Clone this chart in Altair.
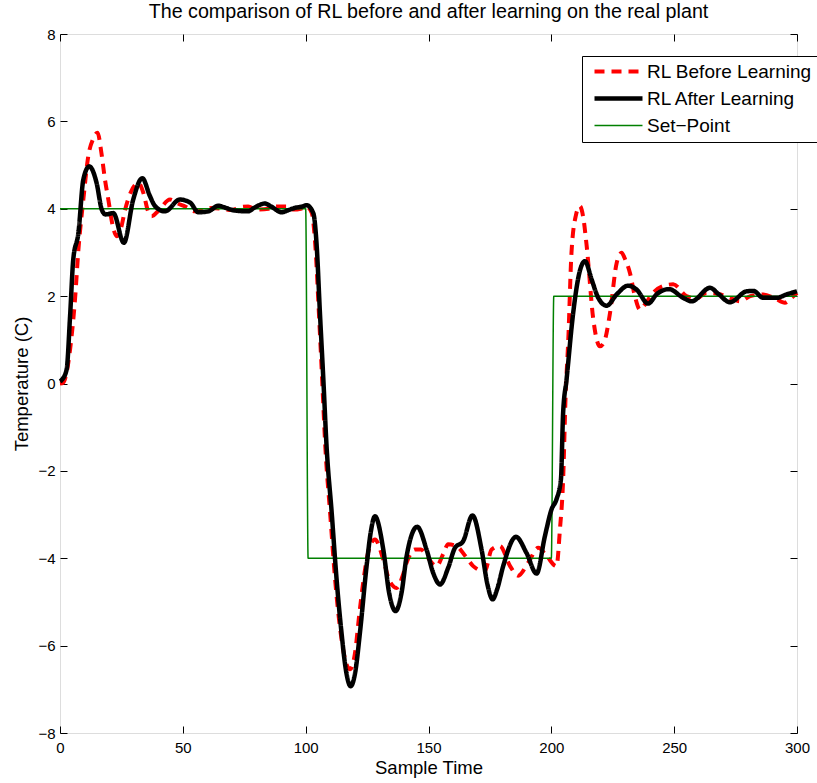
import altair as alt
import pandas as pd

# ---------------- data ----------------
t_before = [0, 1.3, 2.5, 4.1, 6.1, 7.5, 9.5, 11.5, 13.5, 15.3, 16.8, 18.3, 19.7, 21.5, 23.1,
            24.8, 26.5, 29, 31.9, 34, 35.8, 37.3, 40, 44.8, 48, 51, 55, 58, 61.7, 66, 70, 73,
            76.6, 80, 85, 88, 92, 95, 98, 100.4, 102.5, 104, 105.4, 106.7, 108, 110, 112, 114,
            116, 118, 120, 121.8, 123.4, 125.5, 128.2, 131.6, 134, 137, 139.5, 141.1, 144.5,
            147, 149.2, 153.3, 156, 158, 161.4, 165, 168.2, 172.9, 175.7, 179.1, 183.2, 186.5,
            190.6, 194.7, 198.1, 202.1, 203.5, 204.8, 205.8, 206.9, 208.2, 210, 211.6, 213,
            214.4, 217.1, 219.8, 221.5, 223.9, 226.6, 228.6, 230, 232, 234, 236.1, 238, 241,
            245.5, 249.6, 255, 259, 263.2, 268, 272.7, 276.8, 281, 286.3, 291, 295.1, 297.5, 300]
y_before = [0.0, 0.02, 0.2, 0.78, 1.92, 3.07, 4.21, 5.2, 5.6, 5.74, 5.3, 4.67, 4.2, 3.6, 3.37,
            3.55, 3.98, 4.4, 4.59, 4.35, 3.95, 3.83, 3.95, 4.21, 4.12, 4.05, 3.94, 3.96, 4.02,
            4.0, 3.97, 4.03, 4.05, 3.98, 4.0, 4.05, 4.05, 3.98, 4.0, 4.05, 3.9, 3.1, 1.6, 0.1,
            -1.45, -3.0, -4.5, -5.6, -6.3, -6.54, -6.2, -5.3, -4.56, -3.85, -3.57, -4.03, -4.5,
            -4.68, -4.4, -4.1, -3.8, -3.8, -3.95, -4.18, -3.9, -3.68, -3.72, -3.95, -4.18, -4.3,
            -3.8, -3.72, -4.18, -4.4, -4.1, -3.76, -3.95, -4.18, -3.34, -2.2, -0.3, 1.0, 2.99,
            3.85, 4.06, 3.8, 3.14, 1.46, 0.85, 0.95, 1.62, 2.76, 2.99, 2.85, 2.53, 2.0, 1.69,
            1.8, 2.05, 2.23, 2.27, 2.0, 1.95, 2.07, 2.05, 1.96, 1.88, 2.0, 2.04, 1.95, 1.85,
            1.95, 2.07]

t_after = [0, 1, 2.7, 4.1, 5.4, 7.5, 9.5, 11.9, 14.9, 17, 18.5, 21.7, 26, 29.8, 33.5, 36.6,
           38.7, 42.7, 48.8, 53, 56.3, 60.4, 64.4, 67, 71.2, 76.6, 79, 83.4, 86, 90.2, 93,
           95.6, 98.5, 100.4, 103.1, 104.5, 105.8, 107.2, 108.5, 110.6, 112.6, 114.6, 116.5,
           118.3, 120.2, 122.1, 124.8, 126.5, 128.2, 131.6, 134, 136.6, 139, 141.1, 145.4,
           149.2, 152, 154.7, 158, 160.8, 164.1, 167.9, 171.6, 174, 176.1, 178, 180.4, 185.6,
           189.9, 194, 197.4, 200.1, 202.1, 203.9, 204.8, 206.2, 208.9, 211.4, 213.7, 216.4,
           219.1, 222.5, 226.6, 231.3, 234.7, 239.4, 243, 247.9, 253.7, 257.1, 264.6, 268,
           272.7, 279.5, 282.2, 286.3, 291.7, 295.8, 300]
y_after = [0.05, 0.1, 0.32, 1.54, 2.84, 3.45, 4.67, 4.97, 4.59, 3.98, 3.87, 3.9, 3.22, 4.21,
           4.7, 4.29, 4.06, 3.94, 4.21, 4.14, 3.92, 3.94, 4.07, 4.03, 3.96, 3.94, 4.02, 4.12,
           4.05, 3.92, 3.97, 4.02, 4.05, 4.08, 3.9, 3.14, 1.62, 0.09, -1.43, -2.96, -4.49,
           -5.71, -6.6, -6.93, -6.6, -5.7, -4.18, -3.4, -3.04, -3.8, -4.8, -5.21, -4.8, -3.95,
           -3.28, -3.8, -4.35, -4.6, -4.22, -3.76, -3.61, -3.02, -3.8, -4.6, -4.94, -4.7,
           -4.18, -3.51, -3.88, -4.35, -3.49, -2.88, -2.65, -2.2, -0.67, 0.09, 1.62, 2.53,
           2.8, 2.38, 1.96, 1.78, 2.04, 2.24, 2.15, 1.83, 2.05, 2.16, 1.96, 1.88, 2.19, 2.05,
           1.86, 2.11, 2.12, 1.96, 1.96, 2.04, 2.11]

t_set = [0, 100, 101, 200, 201, 300]
y_set = [4, 4, -4, -4, 2, 2]

series_names = ["RL Before Learning", "RL After Learning", "Set\u2212Point"]
series_colors = ["#ff0000", "#000000", "#008000"]
series_dash = [[10, 7], [1, 0], [1, 0]]
series_width = [4, 4.5, 1.5]

x_ticks = [0, 50, 100, 150, 200, 250, 300]
y_ticks = [-8, -6, -4, -2, 0, 2, 4, 6, 8]

title_text = "The comparison of RL before and after learning on the real plant"
x_title = "Sample Time"
y_title = "Temperature (C)"

FONT = "Liberation Sans"

df_before = pd.DataFrame({"t": t_before, "v": y_before, "series": series_names[0]})
df_after = pd.DataFrame({"t": t_after, "v": y_after, "series": series_names[1]})
df_set = pd.DataFrame({"t": t_set, "v": y_set, "series": series_names[2]})

W, H = 737, 699

xscale = alt.Scale(domain=[0, 300], nice=False, zero=False)
yscale = alt.Scale(domain=[-8, 8], nice=False, zero=False)

legend = alt.Legend(
    title=None, orient="none", legendX=522, legendY=22,
    symbolType="stroke", symbolSize=2304, symbolOffset=4,
    labelFont=FONT, labelFontSize=19, labelColor="black", labelLimit=400,
    labelOffset=2, clipHeight=19, rowPadding=7, padding=6,
    strokeColor="black", fillColor="white", cornerRadius=0,
)

color_enc = alt.Color("series:N", scale=alt.Scale(domain=series_names, range=series_colors),
                      legend=legend)
dash_enc = alt.StrokeDash("series:N", scale=alt.Scale(domain=series_names, range=series_dash),
                          legend=legend)
width_enc = alt.StrokeWidth("series:N",
                            scale=alt.Scale(type="ordinal", domain=series_names, range=series_width),
                            legend=legend)

main_x_axis = alt.Axis(
    orient="bottom", values=x_ticks, ticks=False, tickSize=0, domain=False, grid=False,
    labelFont=FONT, labelFontSize=15, labelColor="black", labelPadding=7, labelFlush=False,
    title=x_title, titleFont=FONT, titleFontSize=18.5, titleFontWeight="normal",
    titleColor="black", titleX=W / 2, titleY=40, titleBaseline="alphabetic",
)
main_y_axis = alt.Axis(
    orient="left", values=y_ticks, ticks=False, tickSize=0, domain=False, grid=False,
    labelFont=FONT, labelFontSize=15, labelColor="black", labelPadding=5, labelFlush=False,
    title=y_title, titleFont=FONT, titleFontSize=18.5, titleFontWeight="normal",
    titleColor="black", titleX=-33, titleY=H / 2, titleBaseline="alphabetic", titleAngle=270,
)


def series_layer(df, x_axis, y_axis):
    return alt.Chart(df).mark_line(interpolate="monotone", strokeCap="butt",
                                   strokeJoin="round").encode(
        x=alt.X("t:Q", scale=xscale, axis=x_axis),
        y=alt.Y("v:Q", scale=yscale, axis=y_axis),
        color=color_enc,
        strokeDash=dash_enc,
        strokeWidth=width_enc,
    )


def tick_axis(orient, values):
    return alt.Axis(orient=orient, values=values, offset=-7, tickSize=7, ticks=True,
                    tickColor="black", tickWidth=1, labels=False, domain=False,
                    grid=False, title=None)


red_layer = series_layer(df_before, main_x_axis, main_y_axis)
green_layer = series_layer(df_set, tick_axis("bottom", x_ticks), tick_axis("left", y_ticks))
black_layer = series_layer(df_after, tick_axis("top", x_ticks), tick_axis("right", y_ticks))

chart = alt.layer(red_layer, green_layer, black_layer).resolve_axis(
    x="independent", y="independent"
).properties(
    width=W, height=H,
    title=alt.TitleParams(title_text, font=FONT, fontSize=19.7, fontWeight="normal",
                          color="black", anchor="middle", frame="group",
                          baseline="alphabetic", offset=11, dy=22),
    autosize=alt.AutoSizeParams(type="none"),
    padding={"left": 60, "top": 34, "right": 20, "bottom": 50},
).configure_view(
    stroke="black", strokeWidth=1
).configure(background="white")

chart.save("out.html", embed_options={"renderer": "svg", "actions": False})
